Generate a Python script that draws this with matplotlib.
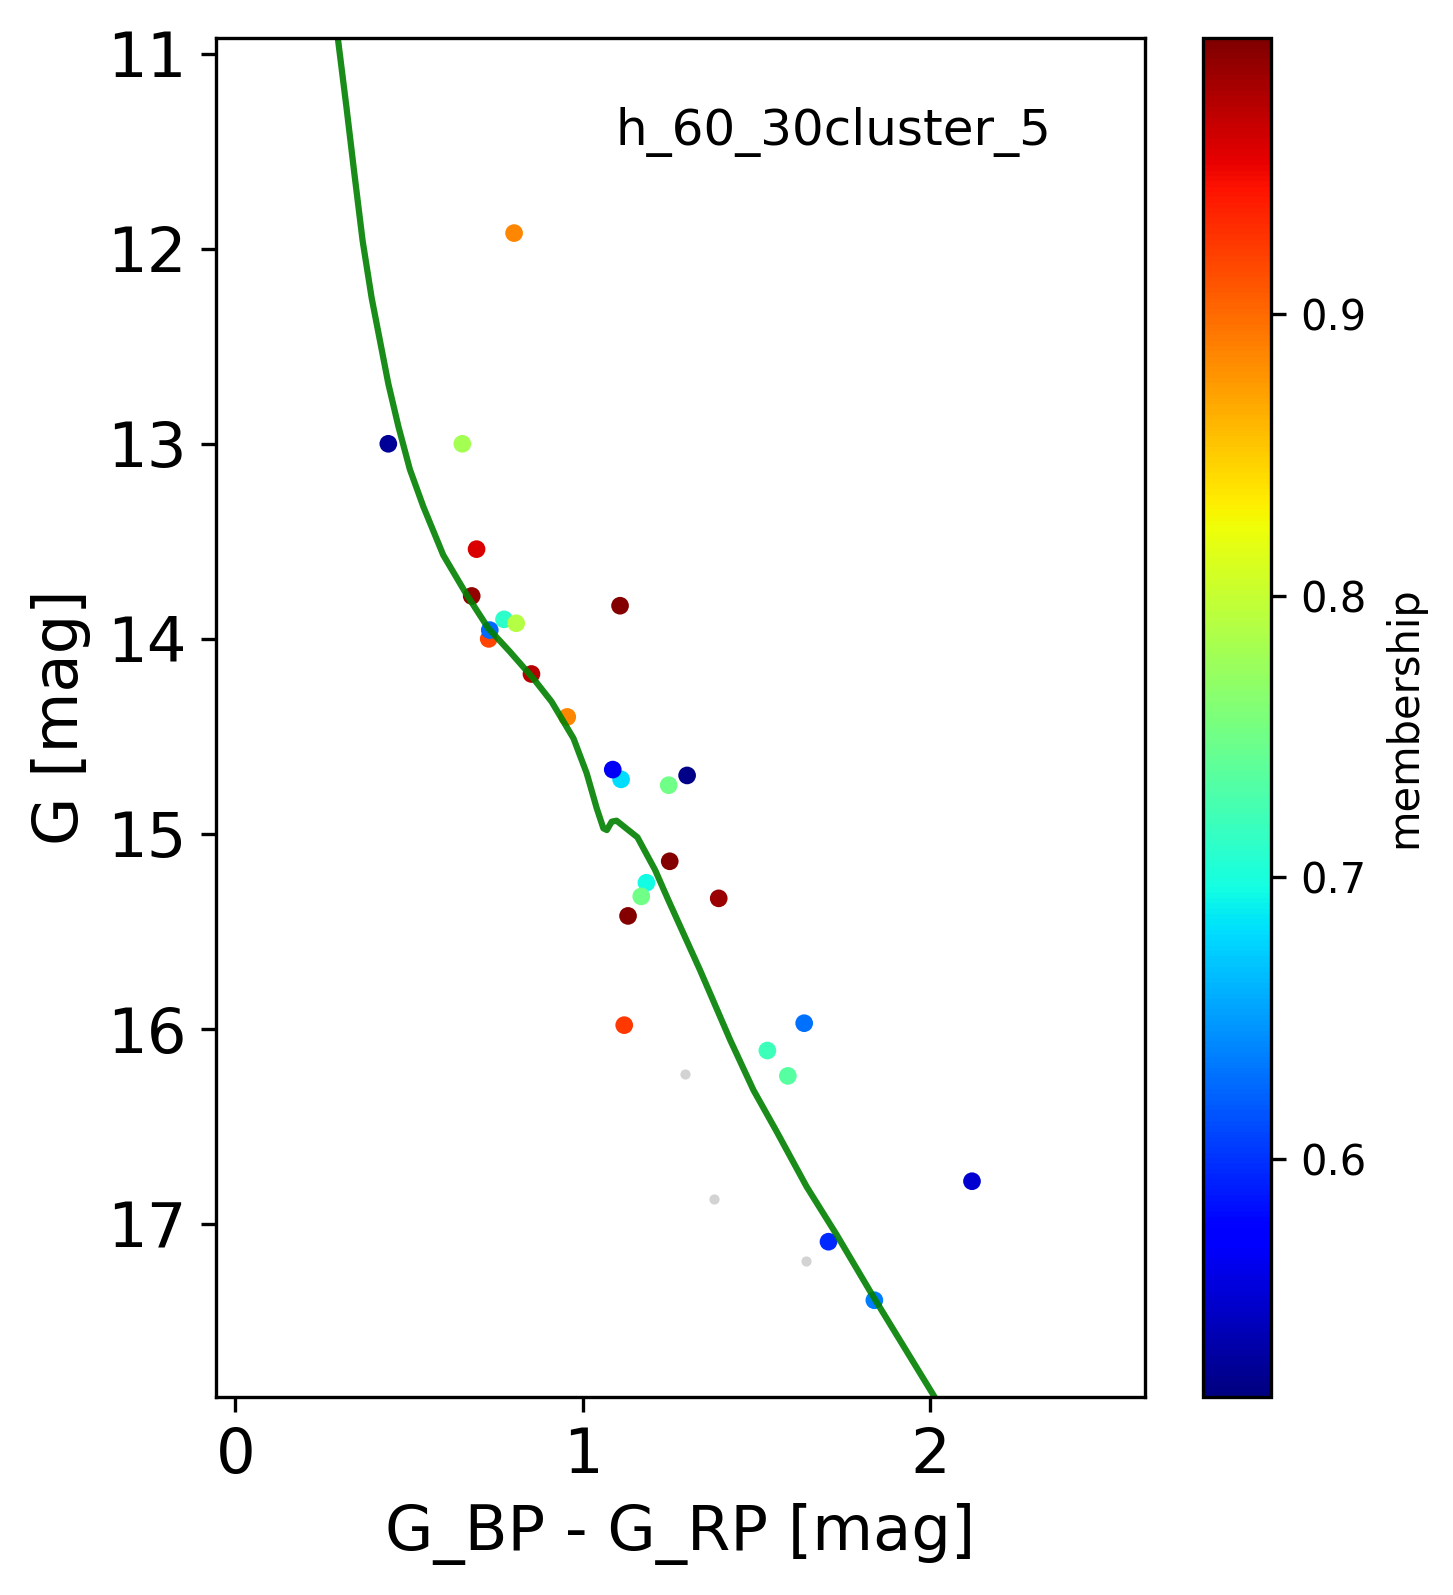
"""
    colour magnitude diagram of one cluster
"""

import matplotlib
matplotlib.use("Agg")
import matplotlib.pyplot as plt

# cluster members
bp_rp = [0.802, 0.44, 0.653, 0.694, 0.68, 0.773, 0.808, 0.729, 0.732, 0.852, 0.955,
         1.107, 1.11, 1.086, 1.247, 1.30, 1.25, 1.183, 1.168, 1.391, 1.13,
         1.119, 1.637, 1.531, 1.59, 2.12, 1.707, 1.839]
g_mag = [11.92, 13.0, 13.0, 13.54, 13.78, 13.90, 13.92, 14.0, 13.955, 14.18, 14.40,
         13.83, 14.72, 14.67, 14.75, 14.70, 15.14, 15.25, 15.32, 15.33, 15.42,
         15.98, 15.97, 16.11, 16.24, 16.78, 17.09, 17.39]
membership = [0.885, 0.525, 0.78, 0.96, 0.99, 0.71, 0.79, 0.92, 0.625, 0.975, 0.885,
              0.995, 0.68, 0.565, 0.75, 0.52, 0.995, 0.695, 0.75, 0.985, 0.995,
              0.925, 0.63, 0.72, 0.735, 0.55, 0.595, 0.635]

# field stars
field_bp_rp = [1.294, 1.376, 1.643]
field_g_mag = [16.23, 16.87, 17.19]

# isochrone
iso_bp_rp = [0.295, 0.320, 0.342, 0.366, 0.392, 0.416, 0.440, 0.469, 0.502, 0.541,
             0.598, 0.666, 0.728, 0.790, 0.857, 0.910, 0.973, 1.011, 1.040, 1.059,
             1.069, 1.083, 1.097, 1.157, 1.208, 1.246, 1.337, 1.424, 1.491, 1.558,
             1.644, 1.731, 1.836, 2.009, 2.05]
iso_g_mag = [10.925, 11.282, 11.611, 11.959, 12.252, 12.472, 12.692, 12.911, 13.131, 13.323,
             13.570, 13.775, 13.946, 14.066, 14.202, 14.322, 14.510, 14.689, 14.869, 14.971,
             14.980, 14.937, 14.932, 15.017, 15.185, 15.339, 15.697, 16.056, 16.313, 16.526,
             16.808, 17.056, 17.372, 17.876, 18.0]


def main():
    w, h = 1453, 1595
    fig = plt.figure(figsize=(w / 300, h / 300), dpi=300)
    ax = fig.add_axes([216 / w, 1 - 1397 / h, (1145 - 216) / w, (1397 - 38) / h])
    cax = fig.add_axes([1203 / w, 1 - 1397 / h, (1271 - 1203) / w, (1397 - 38) / h])

    ax.scatter(field_bp_rp, field_g_mag, s=6, c="lightgrey", linewidths=0)
    sc = ax.scatter(bp_rp, g_mag, s=18, c=membership, cmap="jet",
                    vmin=0.5155, vmax=0.998, linewidths=0)
    ax.plot(iso_bp_rp, iso_g_mag, color="green", alpha=0.9, lw=1.5, scaley=False, scalex=False)

    ax.set_xlim(-0.056, 2.618)
    ax.set_ylim(17.886, 10.92)
    ax.set_xticks([0, 1, 2])
    ax.set_yticks([11, 12, 13, 14, 15, 16, 17])
    ax.tick_params(labelsize=15)
    ax.set_xlabel("G_BP - G_RP [mag]", fontsize=15)
    ax.set_ylabel("G [mag]", fontsize=15)
    ax.text(0.6645, 0.9305, "h_60_30cluster_5", transform=ax.transAxes,
            fontsize=12, ha="center", va="center")

    cb = fig.colorbar(sc, cax=cax)
    cb.set_ticks([0.6, 0.7, 0.8, 0.9])
    cb.ax.tick_params(labelsize=10)
    cb.set_label("membership", fontsize=10)

    fig.savefig("out.png", dpi=300)


if __name__ == "__main__":
    main()
